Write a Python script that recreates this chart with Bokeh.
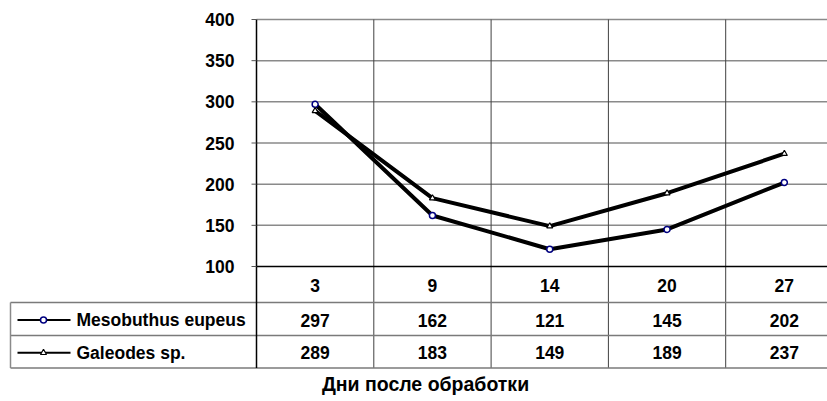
from bokeh.plotting import figure
from bokeh.models import Range1d
from bokeh.core.properties import value
from bokeh.embed import file_html
from bokeh.resources import INLINE

# ---- data ----
categories = ["3", "9", "14", "20", "27"]
meso = [297, 162, 121, 145, 202]
gal = [289, 183, 149, 189, 237]
series_names = ["Mesobuthus eupeus", "Galeodes sp."]
y_ticks = [100, 150, 200, 250, 300, 350, 400]
x_title = "Дни после обработки"

FONT = value("Liberation Sans")
FS = "17.5px"

# ---- geometry helpers (page pixels -> data) ----
ORIG = 0              # page offset of the canvas
CELL = 117.3          # px per category
X0 = 256              # px of category axis origin
def xd(px):
    return (px - X0) / CELL

Y100 = 266            # px of value 100
PXU = (266 - 19) / 300.0
def yd(px):
    return 100 + (Y100 - px) / PXU

W, H = 827, 401
p = figure(width=W, height=H, min_border=0, output_backend="svg",
           toolbar_location=None, x_axis_type=None, y_axis_type=None,
           x_range=Range1d(xd(ORIG), xd(ORIG + W)), y_range=Range1d(yd(ORIG + H), yd(ORIG)))
p.outline_line_color = None
p.grid.visible = False
p.background_fill_color = "white"
p.border_fill_color = "white"

ncat = len(categories)
xs = [i + 0.5 for i in range(ncat)]
x_end = xd(ORIG + W) + 0.1
ymin, ymax = y_ticks[0], y_ticks[-1]

# horizontal gridlines
grid_vals = y_ticks[1:]
p.segment(x0=[0] * len(grid_vals), x1=[x_end] * len(grid_vals), y0=grid_vals, y1=grid_vals,
          line_color="#8a8a8a", line_width=1.5)
# vertical gridlines (category boundaries) through chart and table
row_px = [302, 335, 367.5]
tbl_bottom = yd(row_px[-1])
bx = list(range(1, ncat + 1))
p.segment(x0=bx, x1=bx, y0=[ymax] * len(bx), y1=[tbl_bottom] * len(bx),
          line_color="#404040", line_width=1)

# table horizontal lines
left = xd(10)
p.segment(x0=[left] * 3, x1=[x_end] * 3, y0=[yd(v) for v in row_px], y1=[yd(v) for v in row_px],
          line_color="#7a7a7a", line_width=1.5)
p.segment(x0=[left], x1=[left], y0=[yd(row_px[0])], y1=[tbl_bottom], line_color="#8a8a8a", line_width=1.5)

# axis line at 100 and y axis
p.segment(x0=[0], x1=[x_end], y0=[ymin], y1=[ymin], line_color="black", line_width=1.5)
p.segment(x0=[0], x1=[0], y0=[ymax], y1=[tbl_bottom], line_color="black", line_width=1.5)
p.segment(x0=[xd(251)] * len(y_ticks), x1=[0] * len(y_ticks), y0=y_ticks, y1=y_ticks,
          line_color="#555555", line_width=1)

# y tick labels
p.text(x=[xd(234)] * len(y_ticks), y=y_ticks, text=[str(t) for t in y_ticks],
       text_font=FONT, text_font_size=FS, text_font_style="bold",
       text_align="right", text_baseline="middle", text_color="black")

# series lines
p.line(xs, gal, line_color="black", line_width=4)
p.line(xs, meso, line_color="black", line_width=4)
p.scatter(xs, meso, marker="circle", size=6, fill_color="white", line_color="#000080", line_width=1.5)
p.scatter(xs, gal, marker="triangle", size=6, fill_color="white", line_color="black", line_width=1.2)

# table header: categories
hdr_y = yd((266 + 302) / 2 + 1)
p.text(x=xs, y=[hdr_y] * ncat, text=categories, text_font=FONT, text_font_size=FS,
       text_font_style="bold", text_align="center", text_baseline="middle")

# table rows
row_centers = [yd((302 + 335) / 2 + 1), yd((335 + 367.5) / 2 + 1)]
for vals, yc in zip([meso, gal], row_centers):
    p.text(x=xs, y=[yc] * ncat, text=[str(v) for v in vals], text_font=FONT, text_font_size=FS,
           text_font_style="bold", text_align="center", text_baseline="middle")

# legend keys
p.segment(x0=[xd(17)] * 2, x1=[xd(70)] * 2, y0=row_centers, y1=row_centers,
          line_color="black", line_width=2)
p.scatter([xd(43)], [row_centers[0]], marker="circle", size=6, fill_color="white",
          line_color="#000080", line_width=1.5)
p.scatter([xd(43)], [row_centers[1]], marker="triangle", size=6, fill_color="white",
          line_color="black", line_width=1.2)
p.text(x=[xd(76)] * 2, y=row_centers, text=series_names, text_font=FONT, text_font_size=FS,
       text_font_style="bold", text_align="left", text_baseline="middle")

# x title
p.text(x=[xd(425)], y=[yd(383)], text=[x_title], text_font=FONT, text_font_size="19.5px",
       text_font_style="bold", text_align="center", text_baseline="middle")

open("out.html", "w").write(file_html(p, INLINE))
